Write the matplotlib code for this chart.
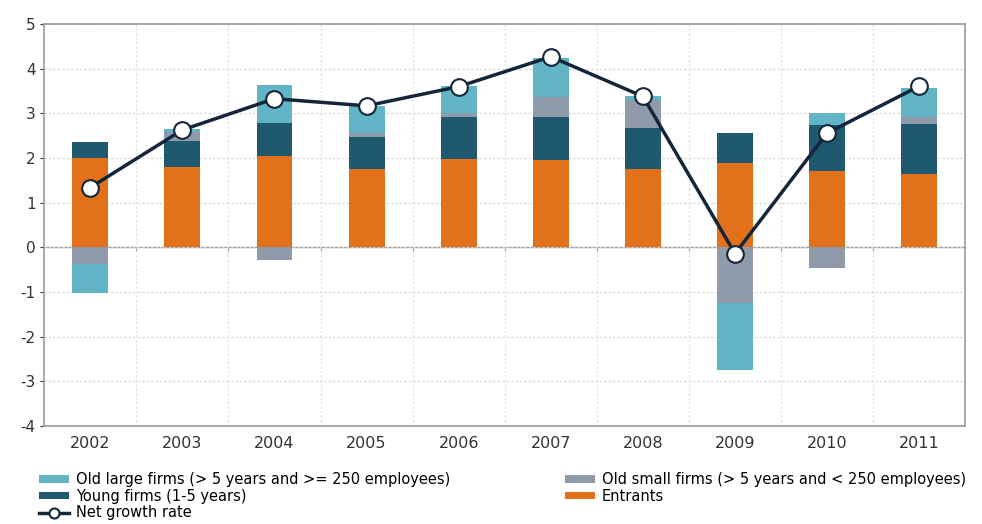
import matplotlib
matplotlib.use("Agg")
import matplotlib.pyplot as plt
import numpy as np

plt.rcParams["axes.unicode_minus"] = False

# values (percentage points)
years = ["2002", "2003", "2004", "2005", "2006", "2007", "2008", "2009", "2010", "2011"]
entrants = [2.00, 1.80, 2.05, 1.76, 1.99, 1.95, 1.76, 1.88, 1.71, 1.65]
young = [0.36, 0.58, 0.74, 0.71, 0.93, 0.97, 0.92, 0.68, 1.03, 1.12]
old_small = [-0.37, 0.20, -0.29, 0.10, 0.10, 0.45, 0.62, -1.25, -0.46, 0.14]
old_large = [-0.66, 0.06, 0.84, 0.59, 0.59, 0.86, 0.09, -1.49, 0.26, 0.67]
net_growth = [1.34, 2.63, 3.33, 3.17, 3.60, 4.27, 3.38, -0.14, 2.56, 3.61]

c_large = "#62b4c7"
c_small = "#8f9bab"
c_young = "#1f5970"
c_entr = "#e3711b"
c_line = "#15263a"

x = np.arange(len(years))
w = 0.39

fig = plt.figure(figsize=(9.82, 5.24), dpi=100)
ax = fig.add_axes([0.045, 0.187, 0.938, 0.767])

# stack positives upward and negatives downward
pos = np.zeros(len(years))
neg = np.zeros(len(years))
series = [(entrants, c_entr, "Entrants"),
          (young, c_young, "Young firms (1-5 years)"),
          (old_small, c_small, "Old small firms (> 5 years and < 250 employees)"),
          (old_large, c_large, "Old large firms (> 5 years and >= 250 employees)")]
handles = {}
for vals, col, lab in series:
    vals = np.array(vals)
    base = np.where(vals >= 0, pos, neg)
    b = ax.bar(x, vals, w, bottom=base, color=col, label=lab, zorder=2)
    handles[lab] = b
    pos = pos + np.where(vals >= 0, vals, 0)
    neg = neg + np.where(vals < 0, vals, 0)

ln, = ax.plot(x, net_growth, color=c_line, lw=2.5, marker="o", ms=12,
              mfc="white", mec=c_line, mew=1.5, zorder=4, label="Net growth rate")

ax.set_xlim(-0.5, len(years) - 0.5)
ax.set_ylim(-4, 5)
ax.set_yticks(range(-4, 6))
ax.set_xticks(x)
ax.set_xticklabels(years)
ax.set_xticks(x[:-1] + 0.5, minor=True)
ax.tick_params(axis="x", which="both", length=0, labelsize=11.5, colors="#333333", pad=7)
ax.tick_params(axis="y", length=3, labelsize=11, colors="#333333", pad=3)
ax.grid(axis="y", color="#d2d2d2", ls=(0, (2, 2)), lw=0.8, zorder=0)
ax.grid(axis="x", which="minor", color="#dedede", ls=(0, (2, 2)), lw=0.8, zorder=0)
for s in ax.spines.values():
    s.set_color("#9a9a9a")
    s.set_linewidth(1.2)

# zero axis with small ticks at category boundaries
zero = ax.secondary_xaxis(4 / 9)
zero.set_xticks(x[:-1] + 0.5)
zero.set_xticklabels([])
zero.tick_params(length=3, direction="out", color="#9a9a9a")
zero.spines["bottom"].set_color("#9a9a9a")
zero.spines["bottom"].set_linewidth(1.0)

order = ["Old large firms (> 5 years and >= 250 employees)", "Young firms (1-5 years)",
         "Old small firms (> 5 years and < 250 employees)", "Entrants"]
hs = [handles[order[0]], handles[order[1]], ln, handles[order[2]], handles[order[3]]]
ls = [order[0], order[1], "Net growth rate", order[2], order[3]]
fig.legend(hs, ls, ncol=2, loc="upper left", bbox_to_anchor=(0.04, 0.099),
           frameon=False, fontsize=10.5, handlelength=2.05, handleheight=0.4,
           labelspacing=0.1, columnspacing=7.9, handletextpad=0.45,
           borderpad=0, borderaxespad=0, markerscale=0.6)

fig.savefig("out.png", dpi=100)
